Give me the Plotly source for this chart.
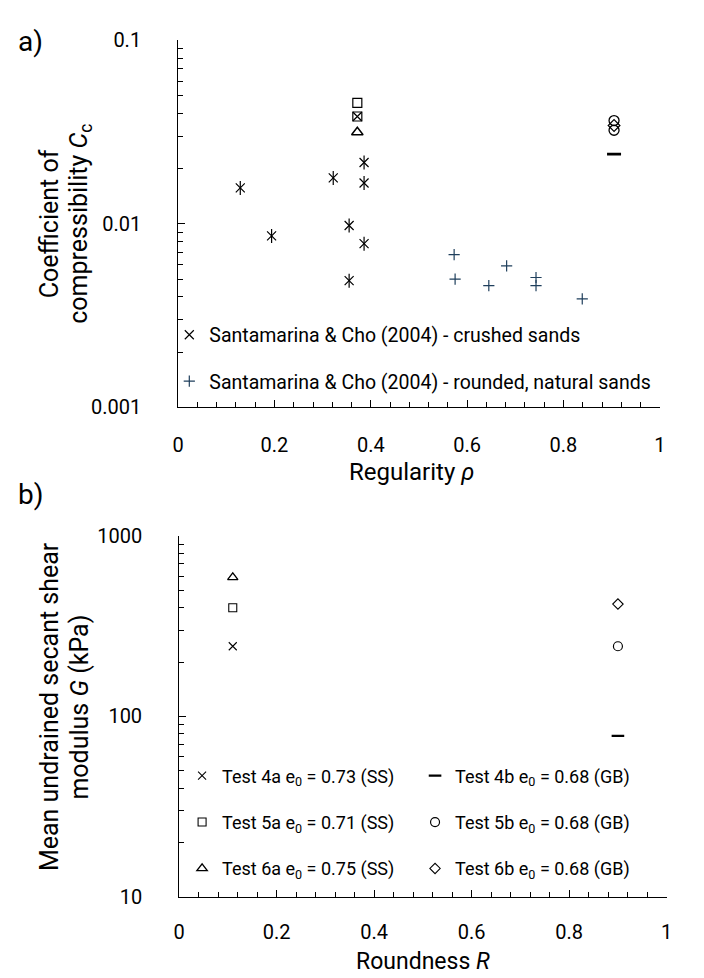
import plotly.graph_objects as go

# ---------------- data ----------------
# Panel a) : Santamarina & Cho (2004)
crushed_rho = [0.129, 0.194, 0.322, 0.355, 0.355, 0.386, 0.386, 0.386]
crushed_cc = [0.0157, 0.0086, 0.0178, 0.0098, 0.0049, 0.0216, 0.0167, 0.0078]
rounded_rho = [0.573, 0.575, 0.645, 0.682, 0.743, 0.743, 0.839]
rounded_cc = [0.0068, 0.0050, 0.0046, 0.0059, 0.0051, 0.0046, 0.0039]

# Panel a) : tests (regularity)
rho_ss = 0.372
rho_gb = 0.905
cc_4a = [0.0385]
cc_5a = [0.0457, 0.0385]
cc_6a = [0.0316]
cc_4b = [0.0240]
cc_5b = [0.0366, 0.0324]
cc_6b = [0.0344]

# Panel b) : tests (roundness)
R_ss = 0.11
R_gb = 0.90
G_4a = 245
G_5a = 400
G_6a = 590
G_4b = 78
G_5b = 245
G_6b = 420

names = {
    "4a": "Test 4a e<sub>0</sub> = 0.73 (SS)",
    "5a": "Test 5a e<sub>0</sub> = 0.71 (SS)",
    "6a": "Test 6a e<sub>0</sub> = 0.75 (SS)",
    "4b": "Test 4b e<sub>0</sub> = 0.68 (GB)",
    "5b": "Test 5b e<sub>0</sub> = 0.68 (GB)",
    "6b": "Test 6b e<sub>0</sub> = 0.68 (GB)",
}
symbols = {"4a": "x-thin-open", "5a": "square-open", "6a": "triangle-up-open",
           "4b": "line-ew-open", "5b": "circle-open", "6b": "diamond-open"}
sizes = {"4a": 9, "5a": 9, "6a": 10, "4b": 10, "5b": 10, "6b": 9}
lw = {"4a": 1.2, "5a": 1.2, "6a": 1.5, "4b": 2.6, "5b": 1.3, "6b": 1.2}

FONT = "Roboto"
W, H = 704, 978

def px_x(p):
    return p / W

def px_y(p):
    return 1 - p / H

fig = go.Figure()

# panel a: Santamarina & Cho - crushed (x with vertical stroke)
fig.add_trace(go.Scatter(
    x=crushed_rho, y=crushed_cc, mode="markers", xaxis="x", yaxis="y",
    name="Santamarina & Cho (2004) - crushed sands", legend="legend", legendgroup="c",
    marker=dict(symbol="x-thin-open", size=9, color="black", line=dict(width=1.2, color="black"))))
fig.add_trace(go.Scatter(
    x=crushed_rho, y=crushed_cc, mode="markers", xaxis="x", yaxis="y",
    showlegend=False, legendgroup="c", hoverinfo="skip",
    marker=dict(symbol="line-ns-open", size=10, color="black", line=dict(width=1.2, color="black"))))
fig.add_trace(go.Scatter(
    x=rounded_rho, y=rounded_cc, mode="markers", xaxis="x", yaxis="y",
    name="Santamarina & Cho (2004) - rounded, natural sands", legend="legend", legendgroup="r",
    marker=dict(symbol="cross-thin-open", size=8, color="#1f3f5c", line=dict(width=1.2, color="#1f3f5c"))))

# panel a: tests
for key, vals, rho in [("5a", cc_5a, rho_ss), ("4a", cc_4a, rho_ss), ("6a", cc_6a, rho_ss),
                       ("4b", cc_4b, rho_gb), ("5b", cc_5b, rho_gb), ("6b", cc_6b, rho_gb)]:
    fig.add_trace(go.Scatter(
        x=[rho] * len(vals), y=vals, mode="markers", xaxis="x", yaxis="y", showlegend=False,
        marker=dict(symbol=symbols[key], size=sizes[key], color="black",
                    line=dict(width=lw[key], color="black"))))

# panel b: tests
for key, G, R, leg in [("4a", G_4a, R_ss, "legend2"), ("5a", G_5a, R_ss, "legend2"), ("6a", G_6a, R_ss, "legend2"),
                       ("4b", G_4b, R_gb, "legend3"), ("5b", G_5b, R_gb, "legend3"), ("6b", G_6b, R_gb, "legend3")]:
    fig.add_trace(go.Scatter(
        x=[R], y=[G], mode="markers", xaxis="x2", yaxis="y2", name=names[key],
        legend=leg, legendgroup=key,
        marker=dict(symbol=symbols[key], size=sizes[key] - 1, color="black",
                    line=dict(width=lw[key] * 0.9, color="black"))))

common_x = dict(range=[0, 1], dtick=0.2, ticks="inside", ticklen=7, tickwidth=1, tickcolor="black",
                showline=True, linecolor="black", linewidth=1, showgrid=False, zeroline=False,
                tickfont=dict(size=20, color="black", family=FONT),
                minor=dict(dtick=0.04, ticks="inside", ticklen=5, tickcolor="black", showgrid=False))

minor_a = [m * 10.0 ** e for e in (-3, -2) for m in range(2, 10)]
minor_b = [m * 10.0 ** e for e in (1, 2) for m in range(2, 10)]

common_y = dict(type="log", ticks="inside", ticklen=7, tickwidth=1, tickcolor="black",
                showline=True, linecolor="black", linewidth=1, showgrid=False, zeroline=False,
                tickfont=dict(size=20, color="black", family=FONT), ticklabelstandoff=32)

fig.update_layout(
    width=W, height=H, margin=dict(l=0, r=0, t=0, b=0),
    paper_bgcolor="white", plot_bgcolor="white",
    font=dict(family=FONT, color="black", size=18),
    xaxis=dict(domain=[px_x(167), px_x(657)], anchor="y", ticklabelstandoff=20, **common_x),
    yaxis=dict(domain=[px_y(397), px_y(21)], anchor="x", range=[-3, -1],
               tickvals=[0.001, 0.01, 0.1], ticktext=["0.001", "0.01", "0.1"],
               minor=dict(tickvals=minor_a, ticks="inside", ticklen=5, tickcolor="black", showgrid=False),
               **common_y),
    xaxis2=dict(domain=[px_x(168), px_x(664)], anchor="y2", ticklabelstandoff=17, **common_x),
    yaxis2=dict(domain=[px_y(899), px_y(529)], anchor="x2", range=[1, 3],
                tickvals=[10, 100, 1000], ticktext=["10", "100", "1000"],
                minor=dict(tickvals=minor_b, ticks="inside", ticklen=5, tickcolor="black", showgrid=False),
                **common_y),
    legend=dict(x=px_x(158), y=px_y(303), xanchor="left", yanchor="top", bgcolor="rgba(0,0,0,0)",
                font=dict(size=19.5, family=FONT), traceorder="grouped", tracegroupgap=18),
    legend2=dict(x=px_x(171), y=px_y(756), xanchor="left", yanchor="top", bgcolor="rgba(0,0,0,0)",
                 font=dict(size=18, family=FONT), traceorder="grouped", tracegroupgap=20),
    legend3=dict(x=px_x(408), y=px_y(756), xanchor="left", yanchor="top", bgcolor="rgba(0,0,0,0)",
                 font=dict(size=18, family=FONT), traceorder="grouped", tracegroupgap=20),
    showlegend=True,
)

ann = [
    dict(text="a)", x=px_x(2), y=px_y(22), xanchor="left", yanchor="middle", font=dict(size=28)),
    dict(text="b)", x=px_x(2), y=px_y(486), xanchor="left", yanchor="middle", font=dict(size=28)),
    dict(text="Regularity <i>ρ</i>", x=px_x(404), y=px_y(463), xanchor="center", yanchor="middle",
         font=dict(size=24)),
    dict(text="Roundness <i>R</i>", x=px_x(416), y=px_y(965), xanchor="center", yanchor="middle",
         font=dict(size=23)),
    dict(text="Coefficient of", x=px_x(36), y=px_y(209),
         xanchor="center", yanchor="middle", textangle=-90, font=dict(size=25)),
    dict(text="compressibility <i>C</i><sub>c</sub>", x=px_x(67), y=px_y(209),
         xanchor="center", yanchor="middle", textangle=-90, font=dict(size=25)),
    dict(text="Mean undrained secant shear", x=px_x(36), y=px_y(704),
         xanchor="center", yanchor="middle", textangle=-90, font=dict(size=25)),
    dict(text="modulus <i>G</i> (kPa)", x=px_x(67), y=px_y(704),
         xanchor="center", yanchor="middle", textangle=-90, font=dict(size=25)),
]
for a in ann:
    a.update(xref="paper", yref="paper", showarrow=False)
fig.update_layout(annotations=ann)

fig.write_html("out.html")
